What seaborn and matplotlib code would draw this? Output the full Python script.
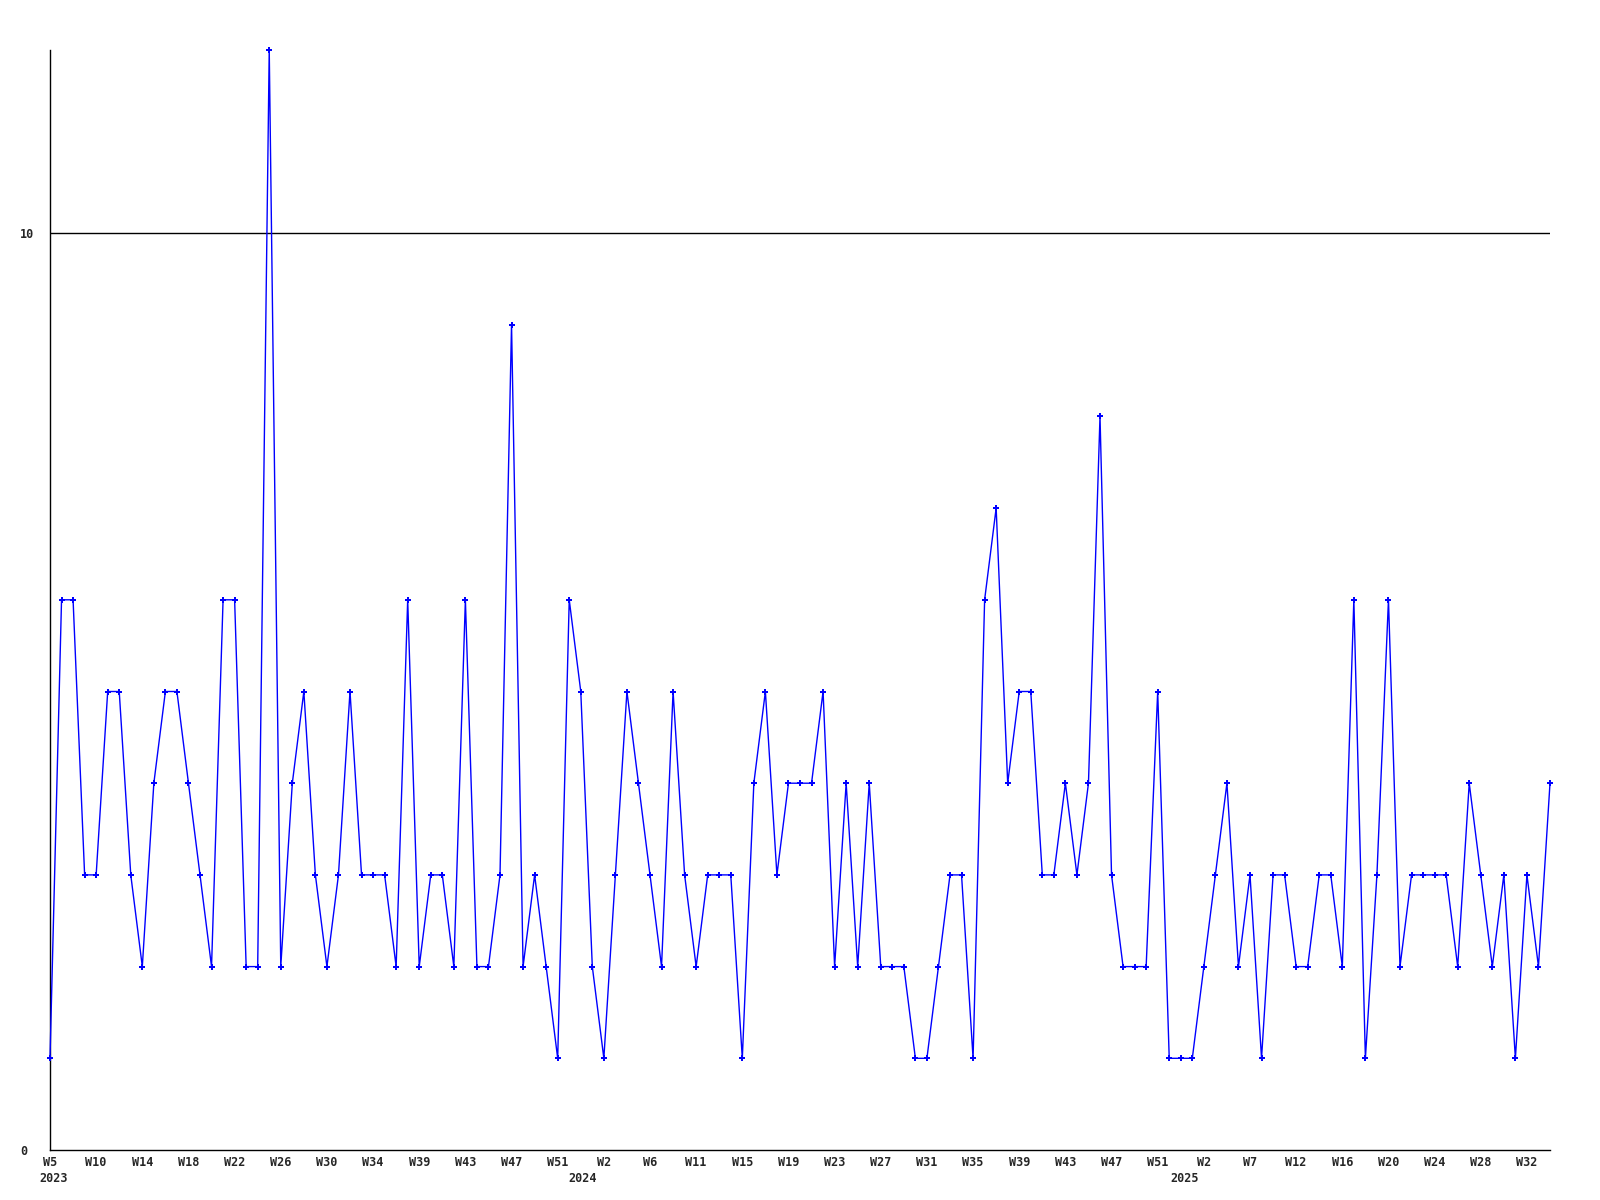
import matplotlib
matplotlib.use("Agg")
import matplotlib.pyplot as plt
import seaborn as sns
import pandas as pd
import numpy as np

###--- Weekly counts (2023 W5 .. 2025):
values_2023a = [1, 6, 6, 3, 3, 5, 5, 3, 2, 4, 5, 5, 4, 3, 2, 6, 6, 2, 2, 12, 2, 4,
                5, 3, 2, 3, 5, 3, 3, 3, 2, 6, 2, 3, 3, 2, 6, 2, 2, 3, 9, 2, 3, 2]
values_2024a = [1, 6, 5, 2, 1, 3, 5, 4, 3, 2, 5, 3, 2, 3, 3, 3, 1, 4, 5, 3, 4,
                4, 4, 5, 2, 4, 2, 4, 2, 2, 2, 1, 1, 2, 3, 3, 1, 6, 7, 4, 5, 5]
values_2024b = [3, 3, 4, 3, 4, 8, 3, 2, 2, 2, 5, 1, 1, 1, 2, 3, 4, 2, 3, 1, 3, 3,
                2, 2, 3, 3, 2, 6, 1, 3, 6, 2, 3, 3, 3, 3, 2, 4, 3, 2, 3, 1, 3, 2, 4]
values = values_2023a + values_2024a + values_2024b

###--- Tick labels (one every 4 points) and year labels:
week_labels = ["W5", "W10", "W14", "W18", "W22", "W26", "W30", "W34", "W39", "W43",
               "W47", "W51", "W2", "W6", "W11", "W15", "W19", "W23", "W27", "W31",
               "W35", "W39", "W43", "W47", "W51", "W2", "W7", "W12", "W16", "W20",
               "W24", "W28", "W32"]
years = ["2023", "2024", "2025"]
year_pos = [0.3, 46.2, 98.3]   # where the year text sits along the week axis
tick_step = 4

df = pd.DataFrame({"idx": np.arange(len(values)), "count": values})

sns.set_style("white")
plt.rcParams["font.family"] = ["DejaVu Sans Mono"]

fig = plt.figure(figsize=(16, 12), dpi=100)
ax = fig.add_axes([50 / 1600, 1 - 1150 / 1200, 1500 / 1600, 1100.4 / 1200])

ax.axhline(10, color="black", linewidth=1.0, zorder=1)

sns.lineplot(data=df, x="idx", y="count", ax=ax, color="#0000ff", linewidth=1.0,
             marker="P", markersize=4.5, markeredgewidth=0,
             markerfacecolor="#0000ff", clip_on=False, zorder=3)

ax.set_xlim(0, len(values) - 1)
ax.set_ylim(0, 12)

###--- X ticks:
ax.set_xticks([i * tick_step for i in range(len(week_labels))])
ax.set_xticklabels(week_labels, fontsize=8.5, fontweight="bold")
ax.tick_params(axis="x", length=0, pad=4.5)

for yr, pos in zip(years, year_pos):
    ax.annotate(yr, xy=(pos, 0), xycoords=("data", "axes fraction"),
                xytext=(0, -16), textcoords="offset points",
                ha="center", va="top", fontsize=8.5, fontweight="bold")

###--- Y ticks, left aligned near the figure edge:
ax.set_yticks([0, 10])
ax.set_yticklabels(["0", "10"], fontsize=8.5, fontweight="bold", ha="left")
ax.tick_params(axis="y", length=0, pad=21.6)

ax.set_xlabel("")
ax.set_ylabel("")
for s in ["top", "right"]:
    ax.spines[s].set_visible(False)
for s in ["left", "bottom"]:
    ax.spines[s].set_color("black")
    ax.spines[s].set_linewidth(1.0)

fig.savefig("out.png", dpi=100, facecolor="white")
